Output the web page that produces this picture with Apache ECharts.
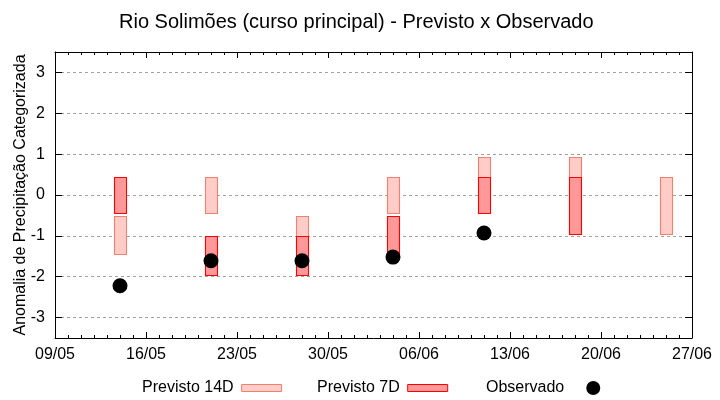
<!DOCTYPE html>
<html>
<head>
<meta charset="utf-8">
<script src="https://cdn.jsdelivr.net/npm/echarts@6/dist/echarts.min.js"></script>
<style>html,body{margin:0;padding:0;background:#fff}#c{width:720px;height:400px}</style>
</head>
<body>
<div id="c"></div>
<script>
// ---- data ----
const xTickLabels = ['09/05','16/05','23/05','30/05','06/06','13/06','20/06','27/06'];
const forecastDates = ['14/05','21/05','28/05','04/06','11/06','18/06','25/06'];
const prev14Low  = [-1.45, -0.45, -1.00, -0.45,  0.43,  0.43, -0.96];
const prev14High = [-0.52,  0.43, -0.52,  0.43,  0.94,  0.94,  0.43];
const prev7Low   = [-0.45, -1.96, -1.96, -1.45, -0.45, -0.96, null];
const prev7High  = [ 0.43, -1.00, -1.00, -0.52,  0.43,  0.43, null];
const observed   = [-2.22, -1.61, -1.61, -1.52, -0.93, null, null];
const yTickValues = [-3,-2,-1,0,1,2,3];

// ---- helpers ----
function dayOffset(s){
  const [d,m] = s.split('/').map(Number);
  const [d0,m0] = xTickLabels[0].split('/').map(Number);
  return Math.round((Date.UTC(2024,m-1,d) - Date.UTC(2024,m0-1,d0))/86400000);
}
const xMax = dayOffset(xTickLabels[xTickLabels.length-1]);
const xs = forecastDates.map(dayOffset);
const d14 = xs.map((x,i)=>[x, prev14Low[i], prev14High[i]]);
const d7 = xs.map((x,i)=>[x, prev7Low[i], prev7High[i]]).filter(r=>r[1]!=null);
const dObs = xs.map((x,i)=>[x, observed[i]]).filter(r=>r[1]!=null);

const FONT = 'Liberation Sans';
const C14 = {fill:'#ffccc8', stroke:'#f08070'};
const C7 = {fill:'#ff9999', stroke:'#ff0000'};

function rectRenderer(col){
  return function(params, api){
    const x = api.value(0), lo = api.value(1), hi = api.value(2);
    const p1 = api.coord([x, hi]);
    const p2 = api.coord([x, lo]);
    const w = api.size([0.92, 0])[0];
    return {type:'rect', shape:{x: Math.round(p1[0]-w/2)+0.5, y: Math.round(p1[1])+0.5, width: Math.round(w), height: Math.round(p2[1]-p1[1])},
      style:{fill: col.fill, stroke: col.stroke, lineWidth: 1.1}};
  };
}

const chart = echarts.init(document.getElementById('c'), null, {renderer:'canvas'});
const xLabel = v => { const i = Math.round(v/7); return xTickLabels[i] || ''; };
const axisLine = {show:true, onZero:false, lineStyle:{color:'#000', width:1}};
const legText = {fontFamily:FONT, fontSize:16, color:'#000'};
chart.setOption({
  animation:false,
  backgroundColor:'#fff',
  textStyle:{fontFamily:FONT},
  title:{text:'Rio Solimões (curso principal) - Previsto x Observado', left:119, top:12, padding:0,
    textStyle:{fontFamily:FONT, fontSize:20, fontWeight:'normal', color:'#000'}},
  grid:{left:55, right:28, top:52, bottom:62, containLabel:false, outerBoundsMode:'none'},
  legend:[
    {data:[{name:'Previsto 14D', icon:'rect', itemStyle:{color:C14.fill, borderColor:C14.stroke, borderWidth:1}}],
      left:142, top:380, padding:0, align:'right', itemWidth:40, itemHeight:7, textStyle:Object.assign({padding:[0,3,0,0]}, legText)},
    {data:[{name:'Previsto 7D', icon:'rect', itemStyle:{color:C7.fill, borderColor:C7.stroke, borderWidth:1}}],
      left:317, top:380, padding:0, align:'right', itemWidth:40, itemHeight:7, textStyle:Object.assign({padding:[0,3,0,0]}, legText)},
    {data:[{name:'Observado', icon:'circle', itemStyle:{color:'#000'}}],
      left:486, top:380, padding:0, align:'right', itemWidth:14, itemHeight:14, textStyle:Object.assign({padding:[0,17,0,0]}, legText)}
  ],
  xAxis:[
    {type:'value', min:0, max:xMax, interval:7, position:'bottom',
      axisLine:axisLine, axisTick:{show:true, inside:true, length:6, lineStyle:{color:'#000'}},
      minorTick:{show:true, splitNumber:7, length:3, lineStyle:{color:'#000'}},
      axisLabel:{formatter:xLabel, fontFamily:FONT, fontSize:16, color:'#000', margin:9},
      splitLine:{show:false}},
    {type:'value', min:0, max:xMax, interval:7, position:'top',
      axisLine:axisLine, axisTick:{show:true, inside:true, length:6, lineStyle:{color:'#000'}},
      minorTick:{show:true, splitNumber:7, length:3, lineStyle:{color:'#000'}},
      axisLabel:{show:false}, splitLine:{show:false}}
  ],
  yAxis:[
    {type:'value', min:-3.5, max:3.5, position:'left',
      name:'Anomalia de Precipitação Categorizada', nameLocation:'middle', nameGap:26, nameMoveOverlap:false,
      nameTextStyle:{fontFamily:FONT, fontSize:16, color:'#000'},
      axisLine:axisLine, axisTick:{show:true, inside:true, length:7, customValues:yTickValues, lineStyle:{color:'#000'}},
      axisLabel:{customValues:yTickValues, fontFamily:FONT, fontSize:16, color:'#000', margin:10},
      splitLine:{show:true, lineStyle:{color:'#a0a0a0', type:[3,3], width:1}}},
    {type:'value', min:-3.5, max:3.5, position:'right',
      axisLine:axisLine, axisTick:{show:true, inside:true, length:7, customValues:yTickValues, lineStyle:{color:'#000'}},
      axisLabel:{show:false}, splitLine:{show:false}}
  ],
  series:[
    {name:'Previsto 14D', type:'custom', renderItem:rectRenderer(C14), data:d14, encode:{x:0,y:[1,2]},
      itemStyle:{color:C14.fill, borderColor:C14.stroke}, z:2},
    {name:'Previsto 7D', type:'custom', renderItem:rectRenderer(C7), data:d7, encode:{x:0,y:[1,2]},
      itemStyle:{color:C7.fill, borderColor:C7.stroke}, z:3},
    {name:'Observado', type:'scatter', data:dObs, symbol:'circle', symbolSize:15,
      itemStyle:{color:'#000', opacity:1}, z:4}
  ]
});
</script>
</body>
</html>
